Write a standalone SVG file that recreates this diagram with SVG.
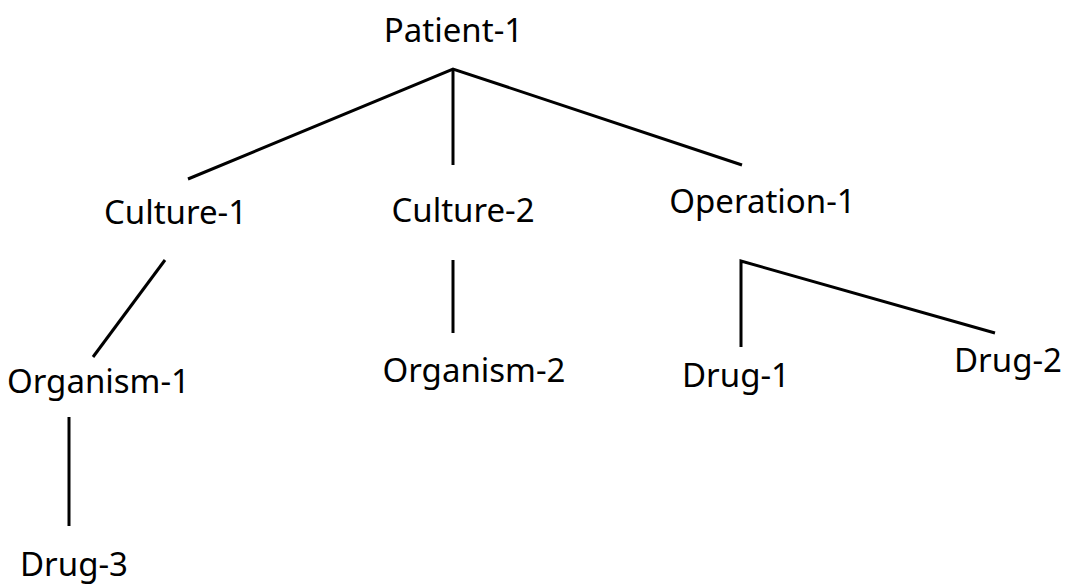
<svg xmlns="http://www.w3.org/2000/svg" width="1067" height="585" viewBox="0 0 1067 585">
<style>
.lbl{font-family:"Noto Sans","Open Sans","DejaVu Sans",sans-serif;font-size:33px;fill:#000;text-anchor:middle}
.edge{stroke:#000;stroke-width:3;fill:none;stroke-linecap:butt;stroke-linejoin:miter}
</style>
<rect width="1067" height="585" fill="#fff"/>
<g id="connectors">
<path class="edge" d="M188,179 L453,69 L742,165"/>
<path class="edge" d="M453,69 L453,165"/>
<path class="edge" d="M165,260 L93,357"/>
<path class="edge" d="M69,417 L69,526"/>
<path class="edge" d="M453,260 L453,333"/>
<path class="edge" d="M741,347 L741,261 L995,333"/>
</g>
<g id="patient-1"><text class="lbl" x="453.5" y="42">Patient-1</text></g>
<g id="culture-1"><text class="lbl" x="175.5" y="224">Culture-1</text></g>
<g id="culture-2"><text class="lbl" x="463" y="222">Culture-2</text></g>
<g id="operation-1"><text class="lbl" x="762.5" y="213">Operation-1</text></g>
<g id="organism-1"><text class="lbl" x="98.5" y="393">Organism-1</text></g>
<g id="organism-2"><text class="lbl" x="474" y="382">Organism-2</text></g>
<g id="drug-1"><text class="lbl" x="736" y="387">Drug-1</text></g>
<g id="drug-2"><text class="lbl" x="1008" y="372">Drug-2</text></g>
<g id="drug-3"><text class="lbl" x="74" y="576">Drug-3</text></g>
</svg>
